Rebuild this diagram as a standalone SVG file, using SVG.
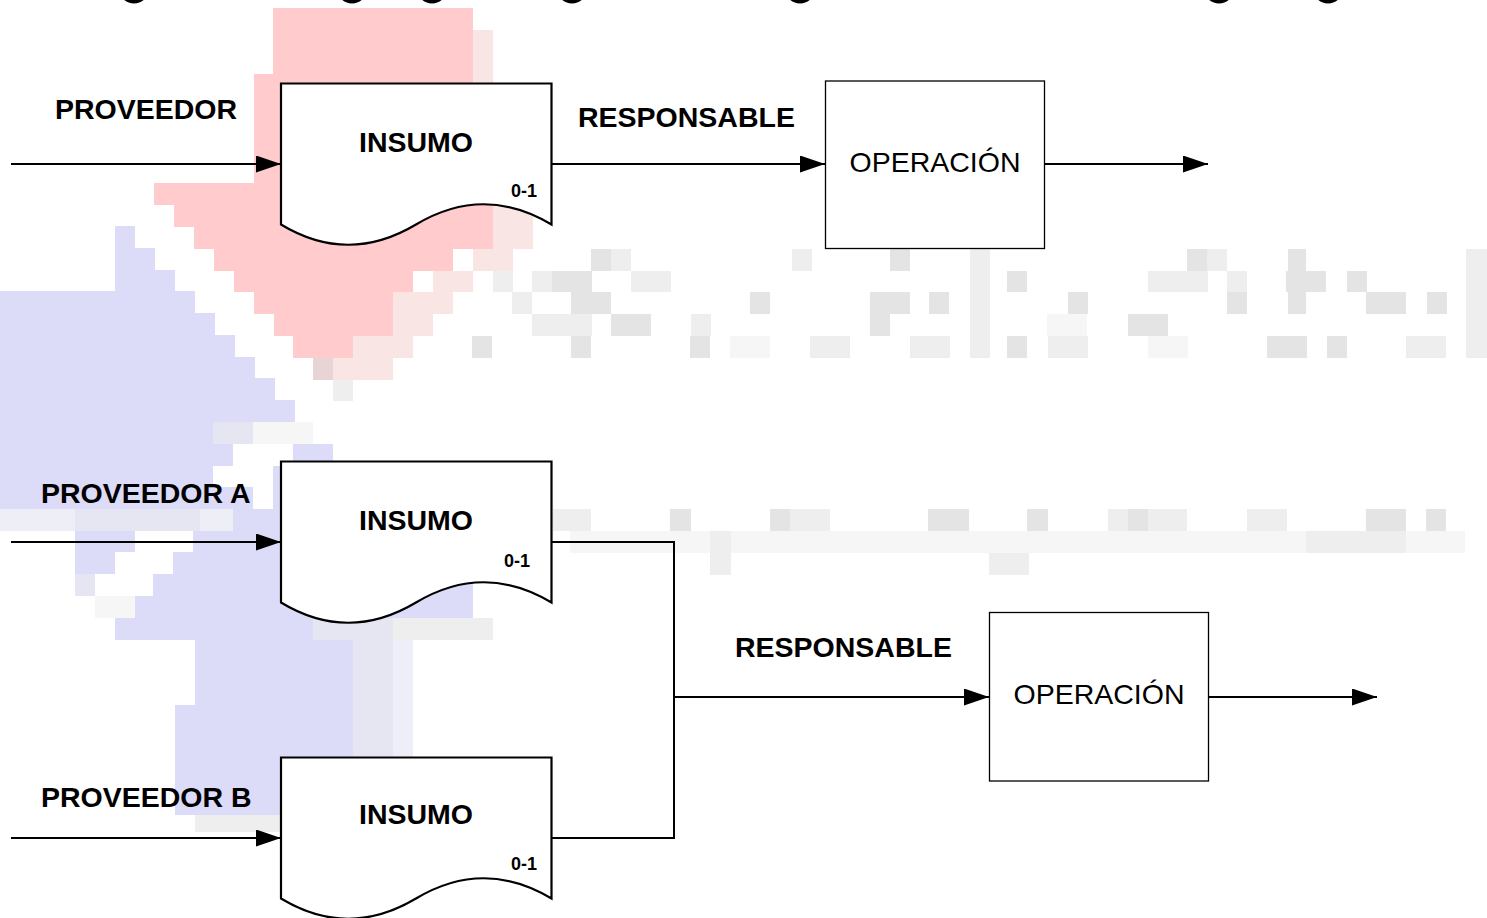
<svg xmlns="http://www.w3.org/2000/svg" width="1487" height="918" viewBox="0 0 1487 918">
<style>
.lbl{font-family:"Liberation Sans",Arial,sans-serif;font-weight:bold;font-size:28.5px;fill:#000}
.op{font-family:"Liberation Sans",Arial,sans-serif;font-size:28.5px;fill:#000}
.num{font-family:"Liberation Sans",Arial,sans-serif;font-weight:bold;font-size:18px;fill:#000}
.doc{fill:#fff;stroke:#000;stroke-width:2.2}
.box{fill:#fff;stroke:#000;stroke-width:1.3}
.con{fill:none;stroke:#000;stroke-width:2}
.g1{fill:#e4e4e4}.g2{fill:#eeeeee}.g3{fill:#f6f6f6}
.pk{fill:#ffcbcd}.pl{fill:#f9e6e4}.bl{fill:#dcdcf8}.bg{fill:#e6e6f3}
</style>
<defs>
<marker id="ah" markerUnits="userSpaceOnUse" markerWidth="26" markerHeight="18" refX="25" refY="8.5" orient="auto">
<path d="M0,0 L25,8.5 L0,17 Z" fill="#000"/>
</marker>
</defs>
<rect width="1487" height="918" fill="#fff"/>
<g id="background">
<ellipse cx="134" cy="-9" rx="14" ry="12.5" fill="#000"/>
<ellipse cx="352" cy="-9" rx="14" ry="12.5" fill="#000"/>
<ellipse cx="432" cy="-9" rx="14" ry="12.5" fill="#000"/>
<ellipse cx="572" cy="-9" rx="14" ry="12.5" fill="#000"/>
<ellipse cx="800" cy="-9" rx="14" ry="12.5" fill="#000"/>
<ellipse cx="1219" cy="-9" rx="14" ry="12.5" fill="#000"/>
<ellipse cx="1328" cy="-9" rx="14" ry="12.5" fill="#000"/>
<polygon class="pk" points="273,8 473,8 473,183 493,183 493,249 453,249 453,271 413,271 413,292 393,292 393,336 353,336 353,358 293,358 293,336 274,336 274,314 254,314 254,292 234,292 234,271 214,271 214,249 194,249 194,227 174,227 174,205 154,205 154,183 254,183 254,74 273,74"/>
<rect class="pl" x="473" y="30" width="20" height="53"/>
<rect class="pl" x="493" y="205" width="40" height="44"/>
<rect class="pl" x="473" y="249" width="40" height="22"/>
<rect class="pl" x="433" y="271" width="40" height="21"/>
<rect class="pl" x="393" y="292" width="60" height="22"/>
<rect class="pl" x="393" y="314" width="40" height="22"/>
<rect class="pl" x="353" y="336" width="60" height="22"/>
<rect class="pl" x="313" y="358" width="80" height="22"/>
<rect fill="#e8d4d4" x="313" y="358" width="20" height="22"/>
<rect class="g2" x="333" y="380" width="20" height="21"/>
<polygon class="bl" points="115,226 135,226 135,248 155,248 155,270 175,270 175,291 195,291 195,313 215,313 215,335 235,335 235,357 255,357 255,378 275,378 275,400 295,400 295,422 213,422 213,444 233,444 233,466 213,466 213,487 253,487 253,509 0,509 0,291 115,291"/>
<rect class="bg" x="213" y="422" width="40" height="22"/>
<rect class="g3" x="253" y="422" width="60" height="22"/>
<rect class="bl" x="293" y="444" width="40" height="22"/>
<rect fill="#eeeef6" x="0" y="509" width="233" height="22"/>
<rect class="bg" x="75" y="509" width="125" height="22"/>
<polygon class="bl" points="273,466 473,466 473,618 313,618 313,640 353,640 353,815 175,815 175,705 195,705 195,640 115,640 115,618 135,618 135,596 153,596 153,574 173,574 173,552 193,552 193,531 233,531 233,509 273,509"/>
<rect class="bl" x="75" y="531" width="60" height="21"/>
<rect class="bl" x="75" y="552" width="40" height="22"/>
<rect class="bg" x="75" y="574" width="20" height="22"/>
<rect class="g3" x="95" y="596" width="40" height="22"/>
<rect class="bg" x="313" y="618" width="80" height="22"/>
<rect class="g2" x="393" y="618" width="100" height="22"/>
<rect class="bg" x="353" y="640" width="40" height="117"/>
<rect fill="#eeeef9" x="393" y="640" width="20" height="117"/>
<rect class="g2" x="195" y="815" width="85" height="17"/>
<!-- gray band 1 -->
<rect class="g1" x="591" y="249" width="20" height="22"/>
<rect class="g2" x="611" y="249" width="20" height="22"/>
<rect class="g1" x="890" y="249" width="20" height="22"/>
<rect class="g2" x="970" y="249" width="20" height="109"/>
<rect class="g2" x="792" y="249" width="20" height="22"/>
<rect class="g1" x="1187" y="249" width="20" height="22"/>
<rect class="g2" x="1207" y="249" width="20" height="22"/>
<rect class="g1" x="1288" y="249" width="18" height="22"/>
<rect class="g2" x="1466" y="249" width="21" height="109"/>
<rect class="g2" x="493" y="271" width="20" height="21"/>
<rect class="g1" x="552" y="271" width="40" height="21"/>
<rect class="g2" x="532" y="271" width="20" height="21"/>
<rect class="g2" x="631" y="271" width="40" height="21"/>
<rect class="g1" x="1007" y="271" width="20" height="21"/>
<rect class="g2" x="1148" y="271" width="60" height="21"/>
<rect class="g1" x="1286" y="271" width="40" height="21"/>
<rect class="g1" x="1347" y="271" width="20" height="21"/>
<rect class="g2" x="1227" y="271" width="20" height="21"/>
<rect class="g1" x="571" y="292" width="40" height="22"/>
<rect class="g2" x="512" y="292" width="20" height="22"/>
<rect class="g1" x="750" y="292" width="20" height="22"/>
<rect class="g1" x="870" y="292" width="40" height="22"/>
<rect class="g1" x="929" y="292" width="20" height="22"/>
<rect class="g1" x="1068" y="292" width="20" height="22"/>
<rect class="g1" x="1227" y="292" width="20" height="22"/>
<rect class="g1" x="1288" y="292" width="18" height="22"/>
<rect class="g1" x="1366" y="292" width="40" height="22"/>
<rect class="g1" x="1427" y="292" width="20" height="22"/>
<rect class="g2" x="532" y="314" width="60" height="22"/>
<rect class="g1" x="611" y="314" width="40" height="22"/>
<rect class="g2" x="691" y="314" width="20" height="22"/>
<rect class="g1" x="870" y="314" width="20" height="22"/>
<rect class="g1" x="1128" y="314" width="40" height="22"/>
<rect class="g3" x="1047" y="314" width="40" height="22"/>
<rect class="g1" x="472" y="336" width="20" height="22"/>
<rect class="g1" x="571" y="336" width="20" height="22"/>
<rect class="g1" x="690" y="336" width="20" height="22"/>
<rect class="g2" x="810" y="336" width="40" height="22"/>
<rect class="g2" x="910" y="336" width="40" height="22"/>
<rect class="g1" x="1007" y="336" width="20" height="22"/>
<rect class="g2" x="1048" y="336" width="40" height="22"/>
<rect class="g1" x="1267" y="336" width="40" height="22"/>
<rect class="g1" x="1327" y="336" width="20" height="22"/>
<rect class="g2" x="1406" y="336" width="40" height="22"/>
<rect class="g3" x="730" y="336" width="40" height="22"/>
<rect class="g3" x="1148" y="336" width="40" height="22"/>
<!-- gray band 2 -->
<rect class="g3" x="570" y="531" width="895" height="22"/>
<rect class="g2" x="553" y="509" width="38" height="22"/>
<rect class="g1" x="670" y="509" width="21" height="22"/>
<rect class="g1" x="770" y="509" width="20" height="22"/>
<rect class="g2" x="790" y="509" width="40" height="22"/>
<rect class="g1" x="928" y="509" width="41" height="22"/>
<rect class="g1" x="1027" y="509" width="21" height="22"/>
<rect class="g2" x="1108" y="509" width="20" height="22"/>
<rect class="g1" x="1128" y="509" width="20" height="22"/>
<rect class="g2" x="1148" y="509" width="39" height="22"/>
<rect class="g2" x="1247" y="509" width="40" height="22"/>
<rect class="g1" x="1366" y="509" width="40" height="22"/>
<rect class="g1" x="1426" y="509" width="20" height="22"/>
<rect class="g2" x="710" y="531" width="21" height="22"/>
<rect class="g2" x="1306" y="531" width="100" height="22"/>
<rect class="g2" x="710" y="553" width="21" height="22"/>
<rect class="g2" x="989" y="553" width="40" height="22"/>
</g>
<g id="connectors">
<line class="con" x1="11" y1="164" x2="281" y2="164" marker-end="url(#ah)"/>
<line class="con" x1="552" y1="164" x2="825" y2="164" marker-end="url(#ah)"/>
<line class="con" x1="1045" y1="164" x2="1208" y2="164" marker-end="url(#ah)"/>
<line class="con" x1="11" y1="542" x2="281" y2="542" marker-end="url(#ah)"/>
<line class="con" x1="11" y1="838" x2="281" y2="838" marker-end="url(#ah)"/>
<polyline class="con" points="552,542 674,542 674,838 552,838"/>
<line class="con" x1="674" y1="697" x2="989" y2="697" marker-end="url(#ah)"/>
<line class="con" x1="1208" y1="697" x2="1377" y2="697" marker-end="url(#ah)"/>
</g>
<g id="label-proveedor"><text class="lbl" x="55" y="119">PROVEEDOR</text></g>
<g id="insumo-1">
<path class="doc" d="M281,83.5 H551.5 V224.5 Q483.75,184 416,224.5 Q348,265 281,224.5 Z"/>
<text class="lbl" x="416" y="152" text-anchor="middle">INSUMO</text>
<text class="num" x="537" y="197" text-anchor="end">0-1</text>
</g>
<g id="label-responsable-1"><text class="lbl" x="578" y="127">RESPONSABLE</text></g>
<g id="operacion-1">
<rect class="box" x="825.5" y="81" width="219" height="167.5"/>
<text class="op" x="935" y="172" text-anchor="middle">OPERACIÓN</text>
</g>
<g id="label-proveedor-a"><text class="lbl" x="41" y="503">PROVEEDOR A</text></g>
<g id="insumo-a">
<path class="doc" d="M281,461.5 H551.5 V602.5 Q483.75,562 416,602.5 Q348,643 281,602.5 Z"/>
<text class="lbl" x="416" y="530" text-anchor="middle">INSUMO</text>
<text class="num" x="530" y="567" text-anchor="end">0-1</text>
</g>
<g id="label-proveedor-b"><text class="lbl" x="41" y="807">PROVEEDOR B</text></g>
<g id="insumo-b">
<path class="doc" d="M281,757.5 H551.5 V898.5 Q483.75,858 416,898.5 Q348,939 281,898.5 Z"/>
<text class="lbl" x="416" y="824" text-anchor="middle">INSUMO</text>
<text class="num" x="537" y="870" text-anchor="end">0-1</text>
</g>
<g id="label-responsable-2"><text class="lbl" x="735" y="657">RESPONSABLE</text></g>
<g id="operacion-2">
<rect class="box" x="989.5" y="612.5" width="219" height="168.5"/>
<text class="op" x="1099" y="704" text-anchor="middle">OPERACIÓN</text>
</g>
</svg>
